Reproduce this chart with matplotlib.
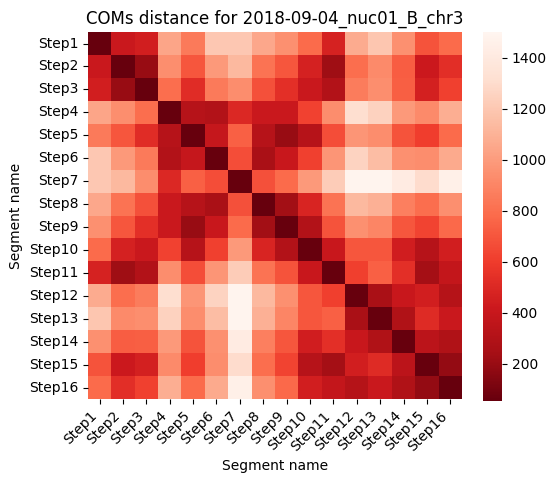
import matplotlib
matplotlib.use("Agg")
import matplotlib.pyplot as plt
import numpy as np
import seaborn as sns

segments = [f"Step{i}" for i in range(1, 17)]
title = "COMs distance for 2018-09-04_nuc01_B_chr3"

# pairwise COM distances (symmetric)
distances = [
    [55, 410, 450, 1040, 850, 1200, 1200, 1050, 950, 780, 470, 1070, 1190, 950, 690, 780],
    [410, 55, 200, 940, 700, 990, 1130, 820, 700, 465, 220, 800, 920, 730, 420, 530],
    [450, 200, 55, 800, 520, 850, 930, 680, 540, 405, 300, 860, 940, 735, 460, 615],
    [1040, 940, 800, 55, 320, 300, 500, 410, 410, 625, 930, 1310, 1250, 990, 920, 1080],
    [850, 700, 520, 320, 55, 390, 740, 320, 200, 315, 670, 970, 930, 690, 605, 780],
    [1200, 990, 850, 300, 390, 55, 670, 260, 400, 615, 970, 1255, 1150, 950, 935, 1060],
    [1200, 1130, 930, 500, 740, 670, 55, 680, 780, 990, 1220, 1485, 1485, 1410, 1300, 1450],
    [1050, 820, 680, 410, 320, 260, 680, 55, 230, 480, 820, 1130, 1090, 870, 800, 945],
    [950, 700, 540, 410, 200, 400, 780, 230, 55, 300, 690, 950, 900, 700, 630, 775],
    [780, 465, 405, 625, 315, 615, 990, 480, 300, 55, 400, 700, 700, 440, 315, 450],
    [470, 220, 300, 930, 670, 970, 1220, 820, 690, 400, 55, 610, 740, 540, 240, 380],
    [1070, 800, 860, 1310, 970, 1255, 1485, 1130, 950, 700, 610, 55, 260, 400, 450, 310],
    [1190, 920, 940, 1250, 930, 1150, 1485, 1090, 900, 700, 740, 260, 55, 290, 515, 410],
    [950, 730, 735, 990, 690, 950, 1410, 870, 700, 440, 540, 400, 290, 55, 340, 290],
    [690, 420, 460, 920, 605, 935, 1300, 800, 630, 315, 240, 450, 515, 340, 55, 190],
    [780, 530, 615, 1080, 780, 1060, 1450, 945, 775, 450, 380, 310, 410, 290, 190, 55],
]

fig = plt.figure(figsize=(5.56, 4.86), dpi=100)
ax = fig.add_axes([0.158, 0.179, 0.673, 0.755])
cax = fig.add_axes([0.869, 0.175, 0.034, 0.759])

sns.heatmap(
    np.array(distances, dtype=float),
    ax=ax,
    cbar_ax=cax,
    cmap="Reds_r",
    vmin=55,
    vmax=1500,
    xticklabels=segments,
    yticklabels=segments,
)
ax.set_title(title, fontsize=12)
ax.set_xlabel("Segment name", fontsize=10)
ax.set_ylabel("Segment name", fontsize=10)
ax.set_xticklabels(segments, rotation=45, ha="right", fontsize=10)
ax.set_yticklabels(segments, rotation=0, fontsize=10)
cax.set_yticks([200, 400, 600, 800, 1000, 1200, 1400])
cax.tick_params(labelsize=10)

fig.savefig("out.png", dpi=100)
